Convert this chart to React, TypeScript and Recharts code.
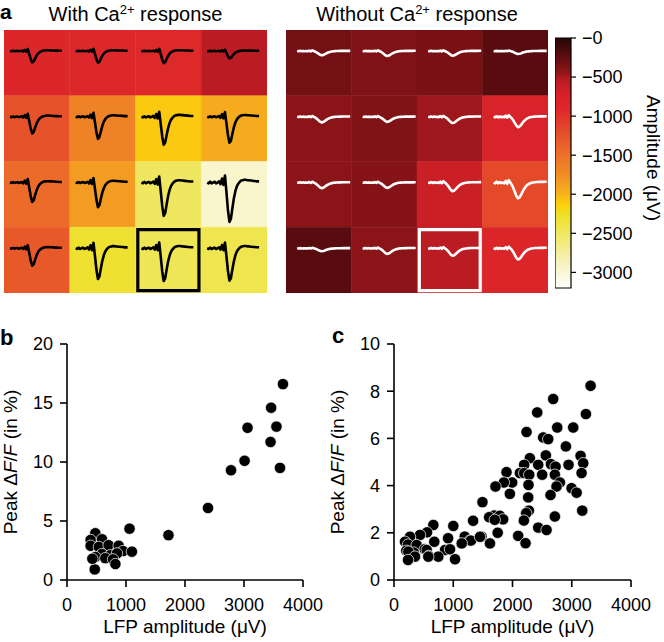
import React from "react";
import {
  ComposedChart,
  Line,
  XAxis,
  YAxis,
  ReferenceArea,
  BarChart,
  Bar,
  ScatterChart,
  Scatter,
} from "recharts";

const FONT = '"Liberation Sans", Arial, Helvetica, sans-serif';

// panel a: LFP amplitude (µV) per electrode, rows top -> bottom
const withCaAmp = [
  [-850, -880, -900, -560],
  [-1250, -1650, -2100, -1950],
  [-1450, -1850, -2500, -2950],
  [-1300, -2300, -2450, -2420],
];
const withoutCaAmp = [
  [-320, -370, -350, -220],
  [-420, -380, -470, -780],
  [-420, -400, -650, -1180],
  [-220, -420, -560, -840],
];
const selectedCell = { row: 3, col: 2 };

// averaged waveform shapes, normalised to trough = 1 (positive = downward)
const sharpWave = [
  0, 0.02, -0.02, 0.02, 0, -0.02, 0.02, 0, -0.03, 0.04, -0.1, 0.06, -0.18, 0.25,
  0.7, 1.0, 0.92, 0.65, 0.4, 0.22, 0.1, 0.03, -0.02, -0.05, -0.06, -0.07, -0.07,
  -0.06, -0.06, -0.05, -0.05, -0.04, -0.04, -0.03, -0.03, -0.03,
];
const broadWave = [
  0, 0.05, -0.05, 0.05, -0.03, 0.04, 0, 0.05, -0.1, 0.08, -0.15, 0, 0.15, 0.35,
  0.6, 0.85, 1.0, 0.95, 0.8, 0.6, 0.42, 0.28, 0.17, 0.1, 0.05, 0.02, 0, -0.02,
  -0.03, -0.03, -0.04, -0.04, -0.04, -0.04, -0.05, -0.05,
];

const colorbarTicks = [0, -500, -1000, -1500, -2000, -2500, -3000];
const colorbarMin = -3200;

// colormap (fraction of colorbarMin)
const cmap = [
  { o: 0, c: "#240707" },
  { o: 0.07, c: "#5a0c10" },
  { o: 0.13, c: "#8a1418" },
  { o: 0.17, c: "#b81c22" },
  { o: 0.22, c: "#d42028" },
  { o: 0.29, c: "#de2a2a" },
  { o: 0.37, c: "#e44a2a" },
  { o: 0.45, c: "#ec6a2a" },
  { o: 0.54, c: "#f08a26" },
  { o: 0.62, c: "#f6b01c" },
  { o: 0.67, c: "#fcd20c" },
  { o: 0.71, c: "#eee02a" },
  { o: 0.79, c: "#f0e868" },
  { o: 0.9, c: "#f7f2c0" },
  { o: 1, c: "#fefefa" },
];

// panel b
const bLfp = [
  1060, 480, 400, 593, 400, 540, 705, 875, 950, 593, 734, 847, 480, 649, 780, 820,
  470, 430, 1100, 1720, 2390, 2780, 3010, 3060, 3450, 3460, 3550, 3610, 3660,
];
const bDff = [
  4.35, 3.96, 3.39, 3.45, 2.9, 2.8, 2.95, 2.9, 2.45, 2.2, 2.1, 2.25, 1.95, 1.85, 1.75,
  1.35, 0.9, 1.8, 2.4, 3.8, 6.1, 9.3, 10.1, 12.9, 11.7, 14.6, 13.0, 9.5, 16.6,
];

// panel c
const cLfp = [
  3318, 2687, 2417, 3239, 2755, 3025, 2237, 2518, 2603, 2901, 2563, 3149, 2293, 3194,
  2946, 2197, 2434, 2648, 2727, 1899, 2124, 2197, 2501, 2282, 2715, 3166, 2800, 1994,
  1854, 1713, 2270, 2743, 2997, 3082, 1955, 2642, 2265, 1493, 3177, 2276, 2231, 2715,
  1690, 1606, 1786, 1842, 1701, 2192, 1335, 1750, 664, 2434, 2575, 1001, 558, 2096,
  1194, 1476, 1279, 439, 270, 186, 913, 680, 1300, 1143, 1620, 2220, 237, 383, 1451,
  518, 552, 861, 945, 208, 332, 242, 586, 748, 354, 1030, 237, 579,
];
const cDff = [
  8.23, 7.67, 7.1, 7.03, 6.46, 6.46, 6.27, 6.04, 5.97, 5.66, 5.28, 5.26, 5.16, 4.95,
  4.88, 4.88, 4.88, 4.91, 4.8, 4.57, 4.53, 4.53, 4.46, 4.46, 4.46, 4.53, 4.13, 4.13,
  4.13, 3.96, 4.03, 3.96, 3.89, 3.7, 3.65, 3.6, 3.5, 3.3, 2.94, 2.94, 2.83, 2.69,
  2.73, 2.66, 2.72, 2.57, 2.55, 2.52, 2.51, 2.0, 2.33, 2.22, 2.12, 2.29, 2.02, 1.87,
  1.84, 1.84, 1.67, 1.91, 1.83, 1.62, 1.77, 1.62, 1.67, 1.55, 1.55, 1.56, 1.5, 1.48,
  1.83, 1.3, 1.27, 1.27, 1.3, 1.24, 1.16, 1.2, 1.02, 0.99, 0.99, 0.88, 0.85, 0.99,
];

const DEPTH = 0.000203; // cell heights per µV
const BASE = 0.32;

function hexRgb(h: string) {
  return [1, 3, 5].map((i) => parseInt(h.slice(i, i + 2), 16));
}

function ampColor(v: number) {
  const t = Math.min(1, Math.max(0, v / colorbarMin));
  for (let i = 0; i < cmap.length - 1; i++) {
    const a = cmap[i];
    const b = cmap[i + 1];
    if (t >= a.o && t <= b.o) {
      const f = (t - a.o) / (b.o - a.o);
      const ca = hexRgb(a.c);
      const cb = hexRgb(b.c);
      const rgb = ca.map((x, k) => Math.round(x + (cb[k] - x) * f));
      return `rgb(${rgb[0]},${rgb[1]},${rgb[2]})`;
    }
  }
  return cmap[cmap.length - 1].c;
}

interface HeatmapProps {
  amps: number[][];
  wave: number[];
  traceColor: string;
  traceWidth: number;
  boxColor: string;
  x0: number;
  x1: number;
  width: number;
  height: number;
}

function Heatmap({ amps, wave, traceColor, traceWidth, boxColor, x0, x1, width, height }: HeatmapProps) {
  const cells = amps.flatMap((row, r) => row.map((v, c) => ({ r, c, v })));
  const n = wave.length;
  const trace = (cell: { r: number; c: number; v: number }) =>
    wave.map((w, i) => ({
      x: cell.c + x0 + ((x1 - x0) * i) / (n - 1),
      y: cell.r + BASE + w * -cell.v * DEPTH,
    }));
  const inset = 0.035;
  return (
    <ComposedChart width={width} height={height} margin={{ top: 0, right: 0, bottom: 0, left: 0 }}>
      <XAxis type="number" dataKey="x" domain={[0, 4]} hide allowDataOverflow />
      <YAxis type="number" dataKey="y" domain={[0, 4]} reversed hide allowDataOverflow />
      {cells.map((cell) => (
        <ReferenceArea
          key={`a${cell.r}-${cell.c}`}
          x1={cell.c}
          x2={cell.c + 1}
          y1={cell.r}
          y2={cell.r + 1}
          fill={ampColor(cell.v)}
          fillOpacity={1}
          stroke={ampColor(cell.v)}
          strokeWidth={0.5}
        />
      ))}
      {cells.map((cell) => (
        <Line
          key={`l${cell.r}-${cell.c}`}
          data={trace(cell)}
          dataKey="y"
          type="linear"
          stroke={traceColor}
          strokeWidth={traceWidth}
          strokeLinejoin="round"
          dot={false}
          activeDot={false}
          isAnimationActive={false}
        />
      ))}
      <ReferenceArea
        x1={selectedCell.col + inset}
        x2={selectedCell.col + 1 - inset}
        y1={selectedCell.row + inset}
        y2={selectedCell.row + 1 - inset}
        fill="none"
        fillOpacity={0}
        stroke={boxColor}
        strokeWidth={3.2}
      />
    </ComposedChart>
  );
}

function Colorbar() {
  const fmt = (v: number) => "\u2212" + Math.abs(v);
  return (
    <BarChart
      width={85}
      height={286}
      data={[{ name: "cb", v: colorbarMin }]}
      margin={{ top: 18, right: 0, bottom: 18, left: 0 }}
      barCategoryGap={0}
    >
      <defs>
        <linearGradient id="cbGrad" x1="0" y1="0" x2="0" y2="1">
          {cmap.map((s) => (
            <stop key={s.o} offset={s.o} stopColor={s.c} />
          ))}
        </linearGradient>
      </defs>
      <XAxis dataKey="name" hide />
      <YAxis
        orientation="right"
        type="number"
        domain={[colorbarMin, 0]}
        ticks={colorbarTicks}
        tickFormatter={fmt}
        width={69}
        axisLine={false}
        stroke="#000"
        tickLine={{ stroke: "#000", strokeWidth: 1.2 }}
        tickSize={5}
        tickMargin={6}
        tick={{ fill: "#000", fontSize: 18 }}
        interval={0}
      />
      <Bar dataKey="v" fill="url(#cbGrad)" stroke="#000" strokeWidth={1.2} isAnimationActive={false} />
    </BarChart>
  );
}

const xLabel = (props: any) => {
  const vb = props.viewBox;
  return (
    <text x={vb.x + vb.width / 2} y={vb.y + 53} textAnchor="middle" fontSize={19} fill="#000">
      LFP amplitude (μV)
    </text>
  );
};

const yLabel = (props: any) => {
  const vb = props.viewBox;
  const cy = vb.y + vb.height / 2;
  return (
    <text transform={`translate(17, ${cy}) rotate(-90)`} textAnchor="middle" fontSize={19} fill="#000">
      Peak Δ<tspan fontStyle="italic">F</tspan>/<tspan fontStyle="italic">F</tspan> (in %)
    </text>
  );
};

const dot = (p: any) => (
  <circle cx={p.cx} cy={p.cy} r={5.7} fill="#000" stroke="#fff" strokeWidth={0.7} />
);

interface ScatterPanelProps {
  lfp: number[];
  dff: number[];
  yMax: number;
  yTicks: number[];
  right: number;
}

function ScatterPanel({ lfp, dff, yMax, yTicks, right }: ScatterPanelProps) {
  const pts = lfp.map((x, i) => ({ x, y: dff[i] }));
  const axisStyle = { stroke: "#000", strokeWidth: 1.6 };
  return (
    <ScatterChart width={330} height={310} margin={{ top: 14, right, bottom: 0, left: 0 }}>
      <XAxis
        type="number"
        dataKey="x"
        domain={[0, 4000]}
        ticks={[0, 1000, 2000, 3000, 4000]}
        height={60}
        stroke="#000"
        axisLine={axisStyle}
        tickLine={axisStyle}
        tickSize={7}
        tickMargin={11}
        tick={{ fill: "#000", fontSize: 18 }}
        interval={0}
        label={xLabel}
      />
      <YAxis
        type="number"
        dataKey="y"
        domain={[0, yMax]}
        ticks={yTicks}
        width={67}
        stroke="#000"
        axisLine={axisStyle}
        tickLine={axisStyle}
        tickSize={7}
        tickMargin={7}
        tick={{ fill: "#000", fontSize: 18 }}
        interval={0}
        label={yLabel}
      />
      <Scatter data={pts} shape={dot} isAnimationActive={false} />
    </ScatterChart>
  );
}

const abs = (left: number, top: number): React.CSSProperties => ({ position: "absolute", left, top });
const titleStyle: React.CSSProperties = { fontSize: 20, lineHeight: "20px", textAlign: "center", whiteSpace: "nowrap" };
const supStyle: React.CSSProperties = { fontSize: 13, position: "relative", top: -7 };

function PanelLetter({ left, top, baseline, size, text }: { left: number; top: number; baseline: number; size: number; text: string }) {
  return (
    <svg style={{ position: "absolute", left, top }} width={20} height={baseline + 6}>
      <text x={0} y={baseline} fontSize={size} fontWeight={700} fill="#000">
        {text}
      </text>
    </svg>
  );
}

export default function App() {
  return (
    <div
      style={{
        position: "absolute",
        left: 0,
        top: 0,
        width: 664,
        height: 642,
        background: "#fff",
        fontFamily: FONT,
        color: "#000",
        overflow: "hidden",
      }}
    >
      <PanelLetter left={0} top={0} baseline={19} size={21} text="a" />
      <div style={{ ...abs(4, 4), ...titleStyle, width: 263 }}>
        With Ca<span style={supStyle}>2+</span> response
      </div>
      <div style={{ ...abs(286, 4), ...titleStyle, width: 262 }}>
        Without Ca<span style={supStyle}>2+</span> response
      </div>
      <div style={abs(4, 30)}>
        <Heatmap
          amps={withCaAmp}
          wave={sharpWave}
          traceColor="#000"
          traceWidth={2.6}
          boxColor="#000"
          x0={0.09}
          x1={0.88}
          width={263}
          height={263}
        />
      </div>
      <div style={abs(286, 30)}>
        <Heatmap
          amps={withoutCaAmp}
          wave={broadWave}
          traceColor="#fff"
          traceWidth={2.6}
          boxColor="#fff"
          x0={0.17}
          x1={0.98}
          width={262}
          height={263}
        />
      </div>
      <div style={abs(555, 20)}>
        <Colorbar />
      </div>
      <svg style={{ position: "absolute", left: 640, top: 60 }} width={24} height={200}>
        <text transform="translate(6.5, 98) rotate(90)" textAnchor="middle" fontSize={19} fill="#000">
          Amplitude (μV)
        </text>
      </svg>

      <PanelLetter left={0} top={320} baseline={25} size={22} text="b" />
      <div style={abs(0, 330)}>
        <ScatterPanel lfp={bLfp} dff={bDff} yMax={20} yTicks={[0, 5, 10, 15, 20]} right={27} />
      </div>

      <PanelLetter left={332} top={320} baseline={23} size={22} text="c" />
      <div style={abs(327, 330)}>
        <ScatterPanel lfp={cLfp} dff={cDff} yMax={10} yTicks={[0, 2, 4, 6, 8, 10]} right={26} />
      </div>
    </div>
  );
}
